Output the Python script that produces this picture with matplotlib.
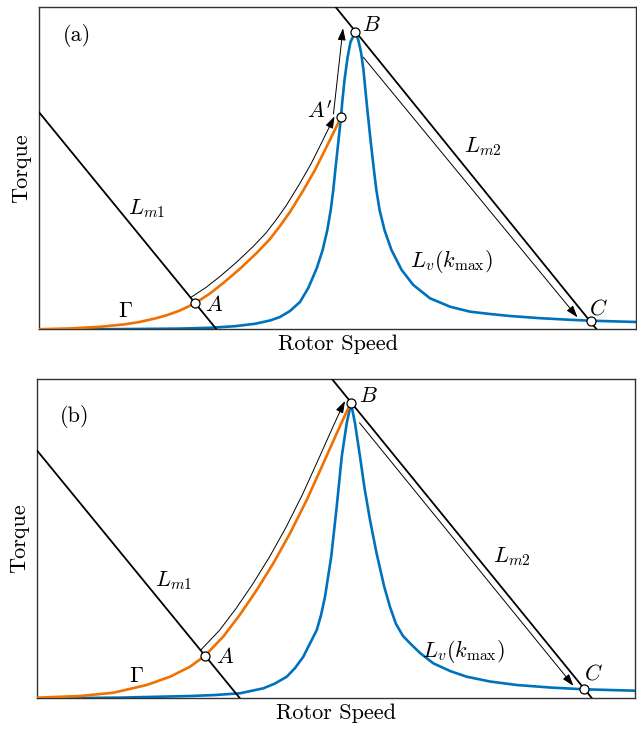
import matplotlib
matplotlib.use("Agg")
import matplotlib.pyplot as plt
from matplotlib.transforms import ScaledTranslation

plt.rcParams["font.family"] = "serif"
plt.rcParams["font.serif"] = ["cmr10", "DejaVu Serif"]
plt.rcParams["mathtext.fontset"] = "cm"
plt.rcParams["axes.formatter.use_mathtext"] = True

BLUE = "#0072BD"
ORANGE = "#F07000"

# both panels: speed and torque in arbitrary units, 0..100

# panel (a)
a_blue_x = [0, 13.52, 23.58, 28.61, 32.80, 36.15, 38.66, 40.34, 42.01, 43.69, 45.08,
            46.49, 47.49, 48.27, 48.84, 49.27, 49.61, 50.06, 50.56, 50.76, 51.15,
            51.65, 52.15, 52.96, 53.46, 53.91, 54.33, 54.87, 55.45, 56.08, 56.49,
            57.03, 57.85, 59.02, 60.73, 62.68, 65.48, 68.83, 72.18, 75.53, 78.88,
            83.91, 88.94, 92.41, 100]
a_blue_y = [0, 0.06, 0.22, 0.47, 0.96, 1.71, 2.73, 3.82, 5.68, 8.48, 12.83,
            18.94, 24.63, 30.84, 37.05, 43.26, 49.47, 57.24, 65.84, 70.28, 77.42,
            84.25, 89.22, 92.24, 89.84, 86.12, 80.53, 70.19, 59.81, 49.47, 43.26,
            37.05, 30.84, 24.63, 18.42, 13.76, 9.63, 7.02, 5.47, 4.75, 4.13,
            3.45, 2.95, 2.67, 2.27]
a_orange_x = [0, 5.14, 10.17, 14.36, 16.88, 19.39, 21.35, 23.58, 26.09, 28.60, 30.84,
              33.63, 36.43, 38.66, 40.34, 42.01, 44.24, 46.20, 47.04, 48.21, 49.27, 50.56]
a_orange_y = [0, 0.25, 0.78, 1.55, 2.30, 3.35, 4.35, 5.84, 8.07, 11.12, 14.38,
              18.80, 23.70, 28.04, 32.08, 36.43, 43.14, 49.47, 52.58, 56.93, 60.96, 65.84]
a_lm1 = [(0, 67.3), (29.7, 0)]
a_lm2 = [(49.7, 100), (93.4, 0)]
a_points = {"A": (26.09, 8.07), "A'": (50.56, 65.84), "B": (52.96, 92.24), "C": (92.41, 2.67)}
a_labels = [("(a)", 6.3, 91.1), (r"$B$", 55.7, 94.5), (r"$A'$", 47.0, 67.6),
            (r"$A$", 29.3, 7.5), (r"$\Gamma$", 14.4, 5.5), (r"$L_{m1}$", 18.0, 37.6),
            (r"$L_{m2}$", 74.3, 56.7), (r"$L_v(k_{\max})$", 69.1, 21.0),
            (r"$C$", 93.7, 6.5)]
a_arrows = [((49.3, 66.9), (50.9, 93.5)), ((54.3, 84.5), (90.2, 3.7))]
a_start = 8

# panel (b)
b_blue_x = [0, 13.84, 25.55, 29.73, 33.91, 37.81, 39.77, 41.73, 43.12, 44.50, 46.75,
            47.47, 48.13, 49.17, 50.09, 50.93, 51.76, 52.48, 53.15, 53.99, 54.74,
            55.66, 56.75, 58.01, 59.01, 60.01, 61.18, 62.36, 64.03, 66.25, 69.05,
            71.84, 75.74, 80.21, 85.78, 91.47, 100]
b_blue_y = [0, 0.22, 0.72, 1.03, 1.57, 3.13, 4.64, 6.76, 9.49, 13.03, 21.39,
            26.09, 31.82, 44.35, 60.01, 75.67, 86.13, 92.39, 86.13, 75.67, 65.86,
            55.84, 45.51, 35.17, 28.59, 23.27, 19.51, 17.23, 14.19, 10.96, 8.55,
            6.76, 5.26, 4.17, 3.38, 2.82, 2.38]
b_orange_x = [0, 7.14, 12.72, 18.30, 22.20, 25.55, 28.06, 31.12, 33.91, 36.71, 39.48,
              42.28, 45.07, 47.85, 50.09, 51.76, 52.48]
b_orange_y = [0.19, 0.72, 1.75, 4.17, 6.76, 9.90, 13.34, 19.35, 26.24, 33.92, 42.28,
              51.68, 62.10, 73.60, 82.99, 89.82, 92.39]
b_lm1 = [(0, 77.5), (33.9, 0)]
b_lm2 = [(49.3, 100), (92.8, 0)]
b_points = {"A": (28.06, 13.34), "B": (52.48, 92.39), "C": (91.47, 2.82)}
b_labels = [("(b)", 6.3, 88.2), (r"$B$", 55.4, 94.5), (r"$A$", 31.4, 13.0),
            (r"$\Gamma$", 16.6, 7.0), (r"$L_{m1}$", 22.8, 37.0),
            (r"$L_{m2}$", 79.4, 44.3), (r"$L_v(k_{\max})$", 71.3, 14.6),
            (r"$C$", 93.0, 7.8)]
b_arrows = [((53.9, 86.3), (89.7, 3.9))]
b_start = 6

HEAD = "-|>,head_length=0.72,head_width=0.24"
FS = 16


def draw_panel(ax, blue_x, blue_y, orange_x, orange_y, lm1, lm2, points, labels,
               arrows, start, shrink):
    ax.plot(blue_x, blue_y, color=BLUE, lw=1.9, zorder=2)
    ax.plot(orange_x, orange_y, color=ORANGE, lw=1.9, zorder=3)
    for line in (lm1, lm2):
        ax.plot([line[0][0], line[1][0]], [line[0][1], line[1][1]], color="k", lw=1.3, zorder=4)

    # thin arrow running just above the orange curve
    shift = ax.transData + ScaledTranslation(-4 / 100, 6 / 100, fig.dpi_scale_trans)
    ax.plot(orange_x[start:-1], orange_y[start:-1], color="k", lw=0.7, transform=shift, zorder=4)
    ax.annotate("", xy=(orange_x[-1], orange_y[-1]), xycoords=shift,
                xytext=(orange_x[-2], orange_y[-2]), textcoords=shift,
                arrowprops=dict(arrowstyle=HEAD, color="k", lw=0.7, shrinkA=0,
                                shrinkB=shrink, mutation_scale=10))
    for s, e in arrows:
        ax.annotate("", xy=e, xytext=s,
                    arrowprops=dict(arrowstyle=HEAD, color="k", lw=0.7, shrinkA=0,
                                    shrinkB=0, mutation_scale=10))

    for name, (x, y) in points.items():
        ax.plot(x, y, "o", ms=6.5, mfc="white", mec="k", mew=0.9, zorder=6)
    for txt, x, y in labels:
        ax.text(x, y, txt, fontsize=FS, ha="center", va="center", zorder=7)

    ax.set_xlim(0, 100)
    ax.set_ylim(0, 100)
    ax.set_xticks([])
    ax.set_yticks([])
    for sp in ax.spines.values():
        sp.set_color("0.2")
        sp.set_linewidth(1.0)
    ax.set_xlabel("Rotor Speed", fontsize=FS, labelpad=4)
    ax.set_ylabel("Torque", fontsize=FS, labelpad=6)


fig = plt.figure(figsize=(6.37, 7.29), dpi=100)
ax_a = fig.add_axes([0.0617, 0.5483, 0.9367, 0.4417])
ax_b = fig.add_axes([0.0586, 0.0421, 0.9383, 0.4380])

draw_panel(ax_a, a_blue_x, a_blue_y, a_orange_x, a_orange_y, a_lm1, a_lm2, a_points,
           a_labels, a_arrows, a_start, 4)
draw_panel(ax_b, b_blue_x, b_blue_y, b_orange_x, b_orange_y, b_lm1, b_lm2, b_points,
           b_labels, b_arrows, b_start, 3)

fig.savefig("out.png", dpi=100)
